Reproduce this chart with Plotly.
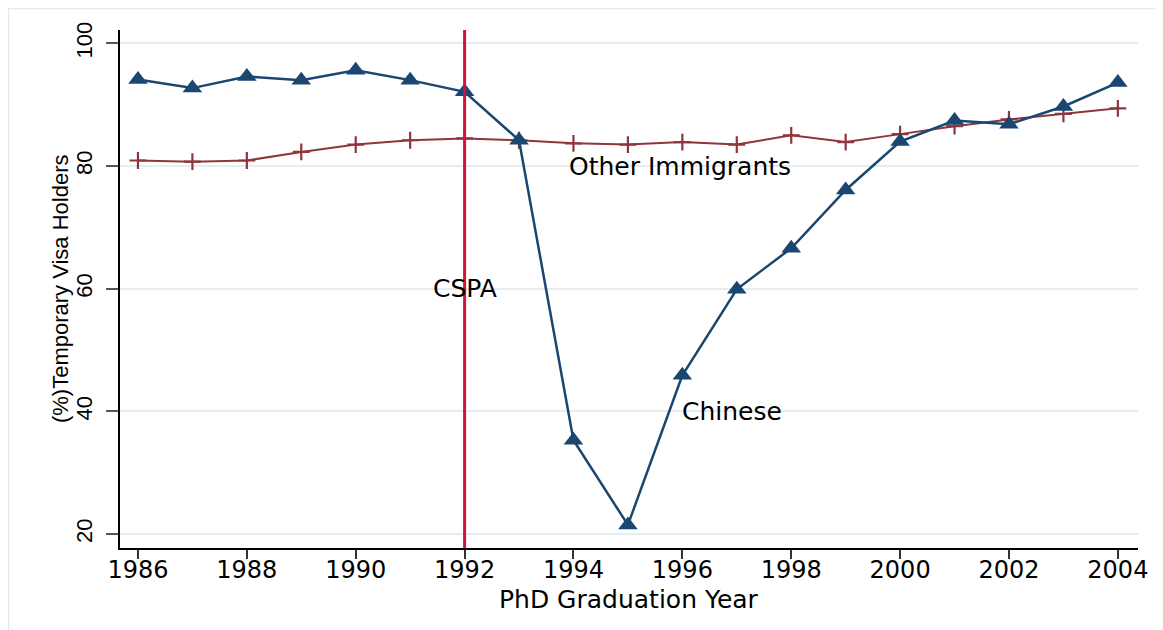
import plotly.graph_objects as go

years = list(range(1986, 2005))
chinese = [94.1, 92.7, 94.6, 94.0, 95.6, 94.0, 92.1, 84.2, 35.3, 21.5, 45.9,
           59.9, 66.6, 76.1, 84.0, 87.4, 86.8, 89.7, 93.6]
other = [80.9, 80.7, 80.9, 82.3, 83.5, 84.2, 84.5, 84.2, 83.7, 83.5, 83.9,
         83.5, 85.0, 83.9, 85.2, 86.5, 87.6, 88.5, 89.4]
x_ticks = list(range(1986, 2005, 2))
y_ticks = [20, 40, 60, 80, 100]
cspa_year = 1992

BLUE = "#1a476f"
MAROON = "#90353b"
RED = "#d0143f"

fig = go.Figure()
fig.add_trace(go.Scatter(
    x=years, y=other, mode="lines+markers", name="Other Immigrants",
    line=dict(color=MAROON, width=2),
    marker=dict(symbol="cross-thin", size=12, line=dict(color=MAROON, width=2.2)),
))
fig.add_trace(go.Scatter(
    x=years, y=chinese, mode="lines+markers", name="Chinese",
    line=dict(color=BLUE, width=2.5),
    marker=dict(symbol="triangle-up", size=17, color=BLUE),
))

fig.add_shape(type="line", xref="x", yref="paper", x0=cspa_year, x1=cspa_year,
              y0=0, y1=1, line=dict(color=RED, width=3), layer="above")

# outer graph-region border
fig.add_shape(type="rect", xref="paper", yref="paper",
              x0=-0.1095, x1=1.06, y0=-0.25, y1=1.0415,
              line=dict(color="#e3eaee", width=1.5), layer="below")

txt_font = dict(family="DejaVu Sans", size=25, color="black")
fig.add_annotation(x=1994, y=80, text="Other Immigrants", showarrow=False,
                   xanchor="left", yanchor="middle", xshift=-6, font=txt_font)
fig.add_annotation(x=1992, y=60, text="CSPA", showarrow=False,
                   xanchor="center", yanchor="middle", font=txt_font)
fig.add_annotation(x=1996, y=40, text="Chinese", showarrow=False,
                   xanchor="left", yanchor="middle", xshift=-2, font=txt_font)

# axis titles
fig.add_annotation(xref="paper", yref="paper", x=0.5, y=-0.1,
                   text="PhD Graduation Year", showarrow=False,
                   xanchor="center", yanchor="middle",
                   font=dict(family="DejaVu Sans", size=25, color="black"))
fig.add_annotation(xref="paper", yref="paper", x=-0.0589, y=0.5,
                   text="(%)Temporary Visa Holders", showarrow=False, textangle=-90,
                   xanchor="center", yanchor="middle",
                   font=dict(family="Liberation Sans", size=22, color="black"))

fig.update_layout(
    width=1155, height=622,
    margin=dict(l=112, r=25, t=22, b=82),
    paper_bgcolor="white", plot_bgcolor="white",
    showlegend=False,
    xaxis=dict(
        range=[1985.67, 2004.37], tickvals=x_ticks, ticktext=[str(v) for v in x_ticks],
        showgrid=False, zeroline=False, automargin=False,
        showline=True, linecolor="black", linewidth=1.5,
        ticks="outside", ticklen=9, tickwidth=1.5, tickcolor="#333333",
        ticklabelstandoff=-10,
        tickfont=dict(family="DejaVu Sans", size=24, color="black"),
    ),
    yaxis=dict(
        range=[17.74, 102.17], tickvals=y_ticks, ticktext=[str(v) for v in y_ticks],
        showgrid=True, gridcolor="#e4edf0", gridwidth=1.5, zeroline=False,
        automargin=False,
        showline=True, linecolor="black", linewidth=1.5,
        ticks="outside", ticklen=12, tickwidth=1.5, tickcolor="#555555",
        tickangle=-90, ticklabelstandoff=5,
        tickfont=dict(family="Liberation Sans", size=22, color="black"),
    ),
)

fig.write_html("out.html")
